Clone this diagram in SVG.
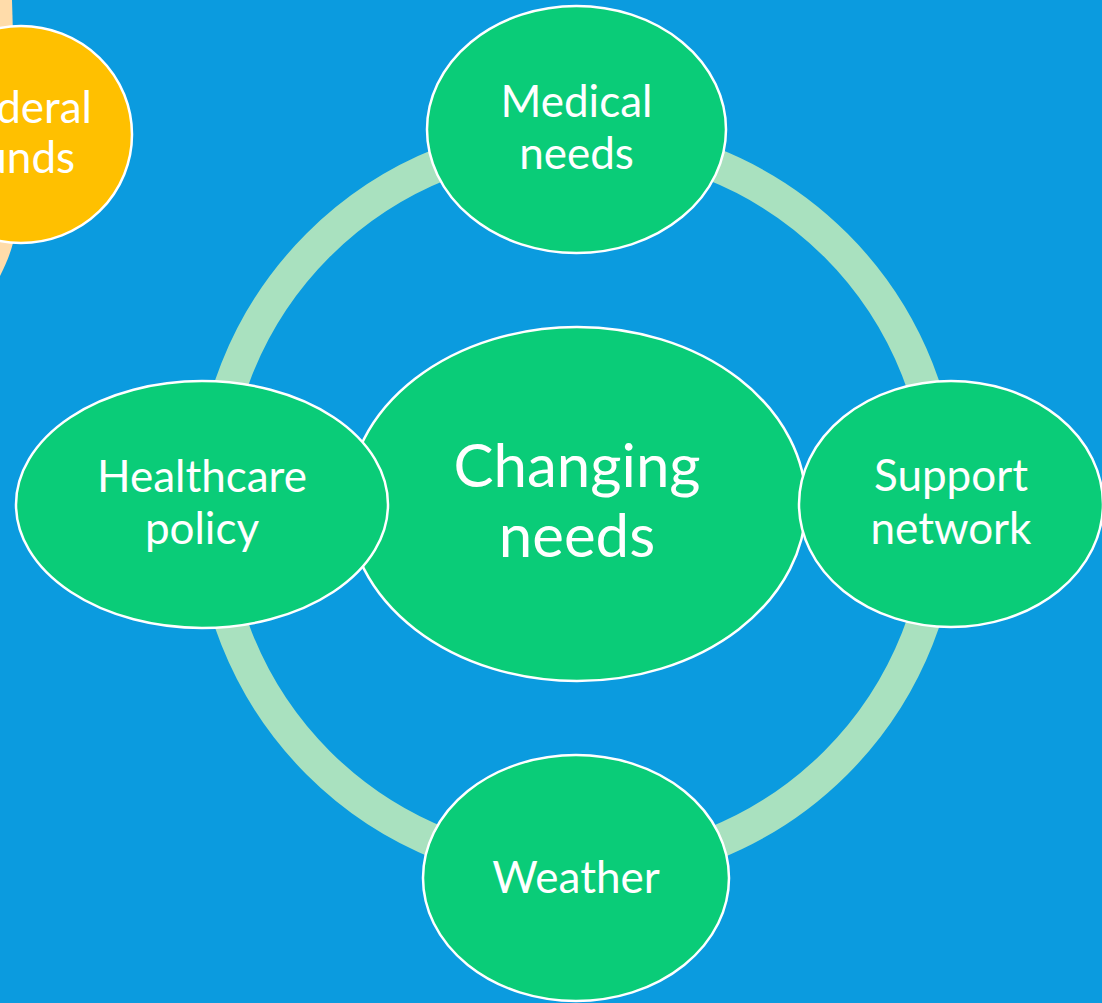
<svg xmlns="http://www.w3.org/2000/svg" width="1102" height="1003" viewBox="0 0 1102 1003">
  <style>
    .node { fill: #0ACC78; stroke: #FFFFFF; stroke-width: 2.5; }
    .lbl { font-family: Lato, "Liberation Sans", sans-serif; font-size: 44px; fill: #FFFFFF; text-anchor: middle; }
    .big { font-size: 60px; }
  </style>
  <rect x="0" y="0" width="1102" height="1003" fill="#0B9BDF"/>
  <g id="federal-funds">
    <path d="M0,0 L12,0 C14,60 15,180 13,243 C10,255 5,266 0,276 Z" fill="#FFDCAA"/>
    <ellipse cx="21" cy="134.5" rx="111" ry="108.5" fill="#FFC000" stroke="#FFFFFF" stroke-width="2.5"/>
    <text class="lbl" x="21" y="123">Federal</text>
    <text class="lbl" x="21" y="173">funds</text>
  </g>
  <g id="connectors">
    <circle cx="577" cy="504" r="366" fill="none" stroke="#A9E1BF" stroke-width="33"/>
  </g>
  <g id="changing-needs">
    <ellipse class="node" cx="577" cy="504" rx="229" ry="177"/>
    <text class="lbl big" x="577" y="487">Changing</text>
    <text class="lbl big" x="577" y="557">needs</text>
  </g>
  <g id="medical-needs">
    <ellipse class="node" cx="576.5" cy="129.5" rx="149.5" ry="123.5"/>
    <text class="lbl" x="576.5" y="117">Medical</text>
    <text class="lbl" x="576.5" y="169">needs</text>
  </g>
  <g id="healthcare-policy">
    <ellipse class="node" cx="202" cy="504.5" rx="186" ry="123.5"/>
    <text class="lbl" x="202" y="491.5">Healthcare</text>
    <text class="lbl" x="202" y="544">policy</text>
  </g>
  <g id="support-network">
    <ellipse class="node" cx="951" cy="504" rx="152" ry="123"/>
    <text class="lbl" x="951" y="491">Support</text>
    <text class="lbl" x="951" y="544">network</text>
  </g>
  <g id="weather">
    <ellipse class="node" cx="576" cy="878" rx="153" ry="123"/>
    <text class="lbl" x="576" y="893">Weather</text>
  </g>
</svg>
